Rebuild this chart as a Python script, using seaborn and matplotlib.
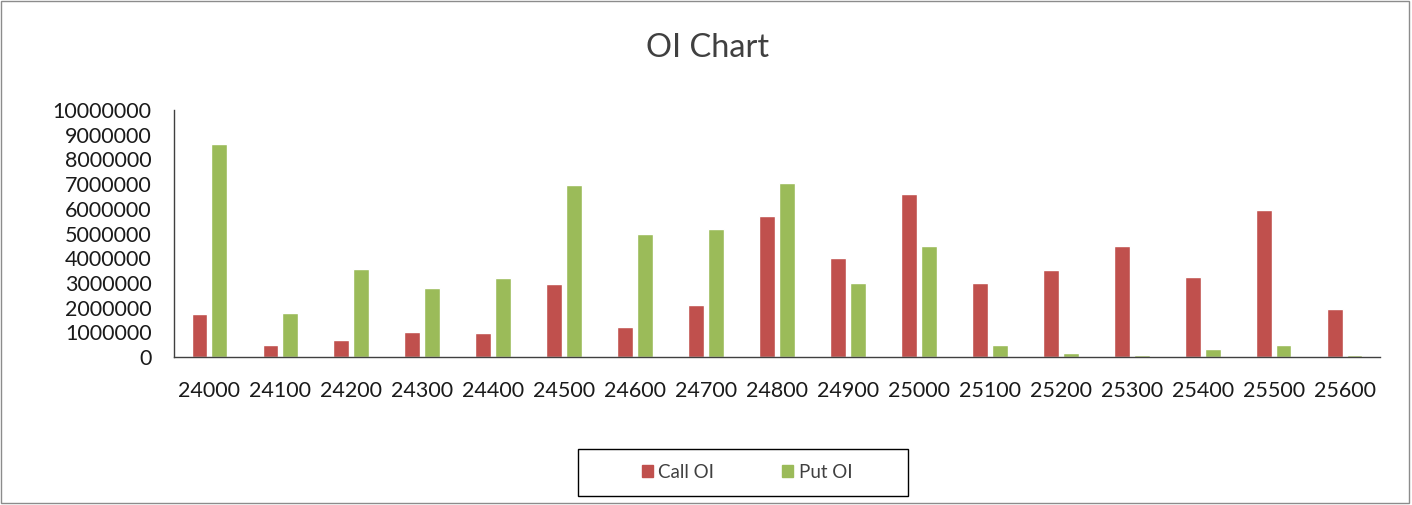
import matplotlib.pyplot as plt
import matplotlib.patches as mpatches
import pandas as pd
import seaborn as sns

strikes = [24000, 24100, 24200, 24300, 24400, 24500, 24600, 24700, 24800,
           24900, 25000, 25100, 25200, 25300, 25400, 25500, 25600]
call_oi = [1750000, 500000, 700000, 1020000, 960000, 2940000, 1220000, 2100000, 5700000,
           4020000, 6590000, 2990000, 3520000, 4510000, 3250000, 5970000, 1950000]
put_oi = [8620000, 1790000, 3570000, 2790000, 3210000, 6950000, 4970000, 5180000, 7060000,
          2990000, 4490000, 490000, 170000, 80000, 340000, 490000, 80000]
series = ["Call OI", "Put OI"]
colors = ["#C0504D", "#9BBB59"]

df = pd.DataFrame({"strike": strikes * 2,
                   "oi": call_oi + put_oi,
                   "series": [series[0]] * len(strikes) + [series[1]] * len(strikes)})

sns.set_style("white")
plt.rcParams["font.family"] = ["Lato", "DejaVu Sans"]

fig = plt.figure(figsize=(14.12, 5.05), dpi=100)
ax = fig.add_axes([174 / 1412, 1 - 357 / 505, (1380 - 174) / 1412, (357 - 110) / 505])

sns.barplot(data=df, x="strike", y="oi", hue="series", palette=colors,
            width=0.56, gap=0.2, saturation=1, ax=ax, legend=False)

ax.set_ylim(0, 10000000)
ax.set_yticks(range(0, 10000001, 1000000))
ax.set_yticklabels([str(v) for v in range(0, 10000001, 1000000)])
ax.tick_params(axis="both", length=0, labelsize=15.5, colors="#1a1a1a")
ax.tick_params(axis="x", pad=17)
ax.tick_params(axis="y", pad=16)
ax.set_xlabel("")
ax.set_ylabel("")
for side in ["top", "right"]:
    ax.spines[side].set_visible(False)
for side in ["left", "bottom"]:
    ax.spines[side].set_color("#404040")
    ax.spines[side].set_linewidth(1)

fig.text(708 / 1412, 1 - 48 / 505, "OI Chart", ha="center", va="center",
         fontsize=23.5, color="#404040")

# legend entries, with the box drawn separately to match the wide frame
handles = [mpatches.Patch(color=c, label=s) for c, s in zip(colors, series)]
leg = fig.legend(handles=handles, loc="center", ncol=2,
                 bbox_to_anchor=(747 / 1412, 1 - 472 / 505),
                 frameon=False, fontsize=13.5, labelcolor="#404040",
                 handlelength=0.6, handleheight=0.6, handletextpad=0.3,
                 columnspacing=3.6, borderpad=0, borderaxespad=0)
fig.add_artist(mpatches.Rectangle((578 / 1412, 1 - 496 / 505), 330 / 1412, 47 / 505,
                                  transform=fig.transFigure, fill=False,
                                  edgecolor="#000000", linewidth=1))

# outer chart border
fig.add_artist(mpatches.Rectangle((0.001, 0.004), 0.997, 0.994, transform=fig.transFigure,
                                  fill=False, edgecolor="#8c8c8c", linewidth=1))

fig.savefig("out.png", dpi=100)
